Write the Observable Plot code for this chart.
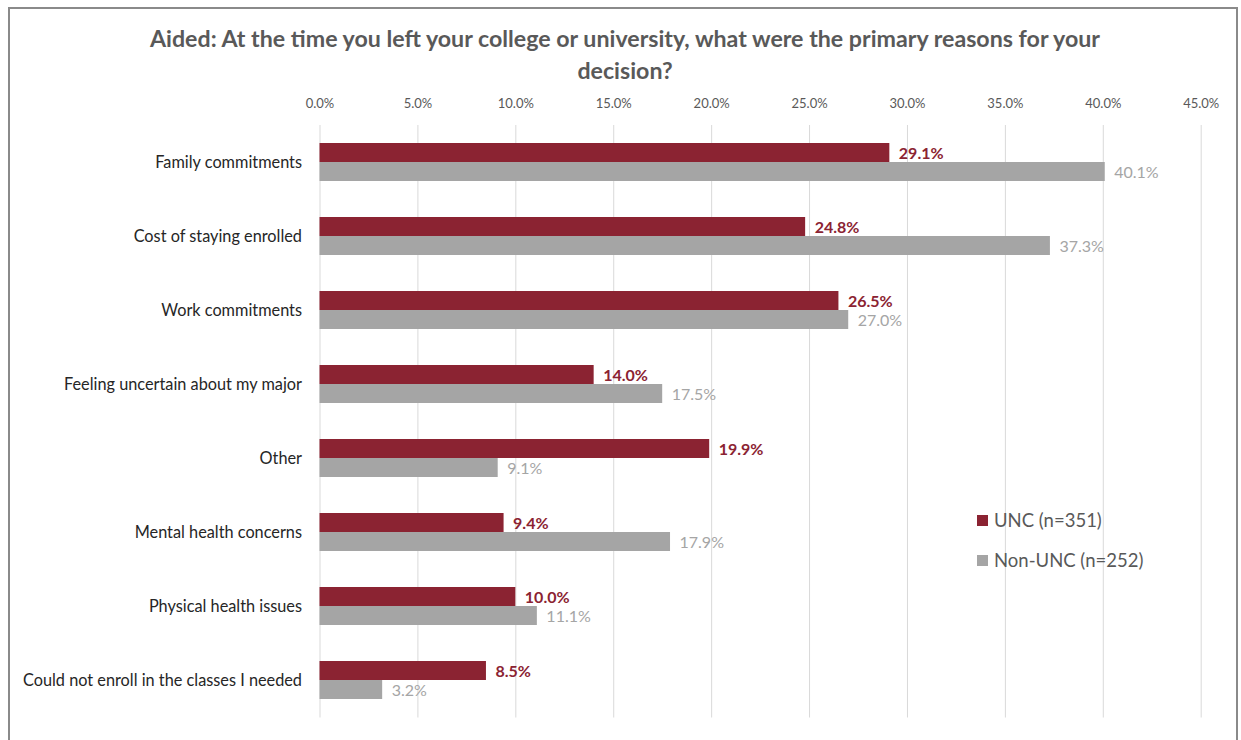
<!DOCTYPE html>
<html>
<head>
<meta charset="utf-8">
<script src="https://cdn.jsdelivr.net/npm/d3@7"></script>
<script src="https://cdn.jsdelivr.net/npm/@observablehq/plot@0.6"></script>
<style>
  html, body { margin: 0; padding: 0; background: #fff; }
  #wrap { position: relative; width: 1241px; height: 740px; overflow: hidden; background: #fff; font-family: Lato, "Open Sans", sans-serif; }
  #frame { position: absolute; left: 8px; top: 7px; width: 1226px; height: 780px; border: 2px solid #8a8a8a; border-bottom: none; }
  #title { position: absolute; top: 22px; left: 75px; width: 1100px; text-align: center; font-weight: 700; font-size: 23.2px; line-height: 32px; color: #595959; }
  #chart { position: absolute; top: 88px; left: 0; }
  .leg { position: absolute; left: 977px; font-size: 18.5px; color: #595959; display: flex; align-items: center; white-space: nowrap; }
  .leg .sw { width: 11px; height: 11px; margin-right: 6px; }
</style>
</head>
<body>
<div id="wrap">
  <div id="frame"></div>
  <div id="title">Aided: At the time you left your college or university, what were the primary reasons for your<br>decision?</div>
  <div id="chart"></div>
  <div class="leg" style="top:509px"><div class="sw" style="background:#8B2332"></div>UNC (n=351)</div>
  <div class="leg" style="top:549px"><div class="sw" style="background:#A5A5A5"></div>Non-UNC (n=252)</div>
</div>
<script>
const categories = [
  "Family commitments",
  "Cost of staying enrolled",
  "Work commitments",
  "Feeling uncertain about my major",
  "Other",
  "Mental health concerns",
  "Physical health issues",
  "Could not enroll in the classes I needed"
];
const uncValues = [29.1, 24.8, 26.5, 14.0, 19.9, 9.4, 10.0, 8.5];
const nonUncValues = [40.1, 37.3, 27.0, 17.5, 9.1, 17.9, 11.1, 3.2];
const xTicks = [0, 5, 10, 15, 20, 25, 30, 35, 40, 45];

const unc = categories.map((c, i) => ({category: c, value: uncValues[i]}));
const nonUnc = categories.map((c, i) => ({category: c, value: nonUncValues[i]}));
const fmt = d => d.toFixed(1) + "%";

const chart = Plot.plot({
  width: 1241,
  height: 652,
  marginLeft: 319.5,
  marginRight: 40.3,
  marginTop: 37,
  marginBottom: 22.5,
  style: {fontFamily: "Lato, 'Open Sans', sans-serif", background: "transparent", overflow: "visible"},
  x: {domain: [0, 45], axis: null, label: null},
  y: {domain: categories, padding: 0, axis: null, label: null},
  marks: [
    Plot.gridX(xTicks, {stroke: "#d9d9d9", strokeOpacity: 1, strokeWidth: 1}),
    Plot.axisX(xTicks, {anchor: "top", label: null, tickSize: 0, tickPadding: 18, tickFormat: fmt, fontSize: 13, fill: "#595959"}),
    Plot.axisY({anchor: "left", label: null, tickSize: 0, tickPadding: 18, fontSize: 16.3, fill: "#262626"}),
    Plot.barX(unc, {x: "value", y: "category", fill: "#8B2332", insetTop: 18, insetBottom: 37}),
    Plot.barX(nonUnc, {x: "value", y: "category", fill: "#A5A5A5", insetTop: 37, insetBottom: 18}),
    Plot.text(unc, {x: "value", y: "category", text: d => fmt(d.value), dx: 9, dy: -9, textAnchor: "start", fill: "#8B2332", fontWeight: "bold", fontSize: 16}),
    Plot.text(nonUnc, {x: "value", y: "category", text: d => fmt(d.value), dx: 9, dy: 10, textAnchor: "start", fill: "#A5A5A5", fontSize: 16})
  ]
});
document.getElementById("chart").appendChild(chart);
</script>
</body>
</html>
